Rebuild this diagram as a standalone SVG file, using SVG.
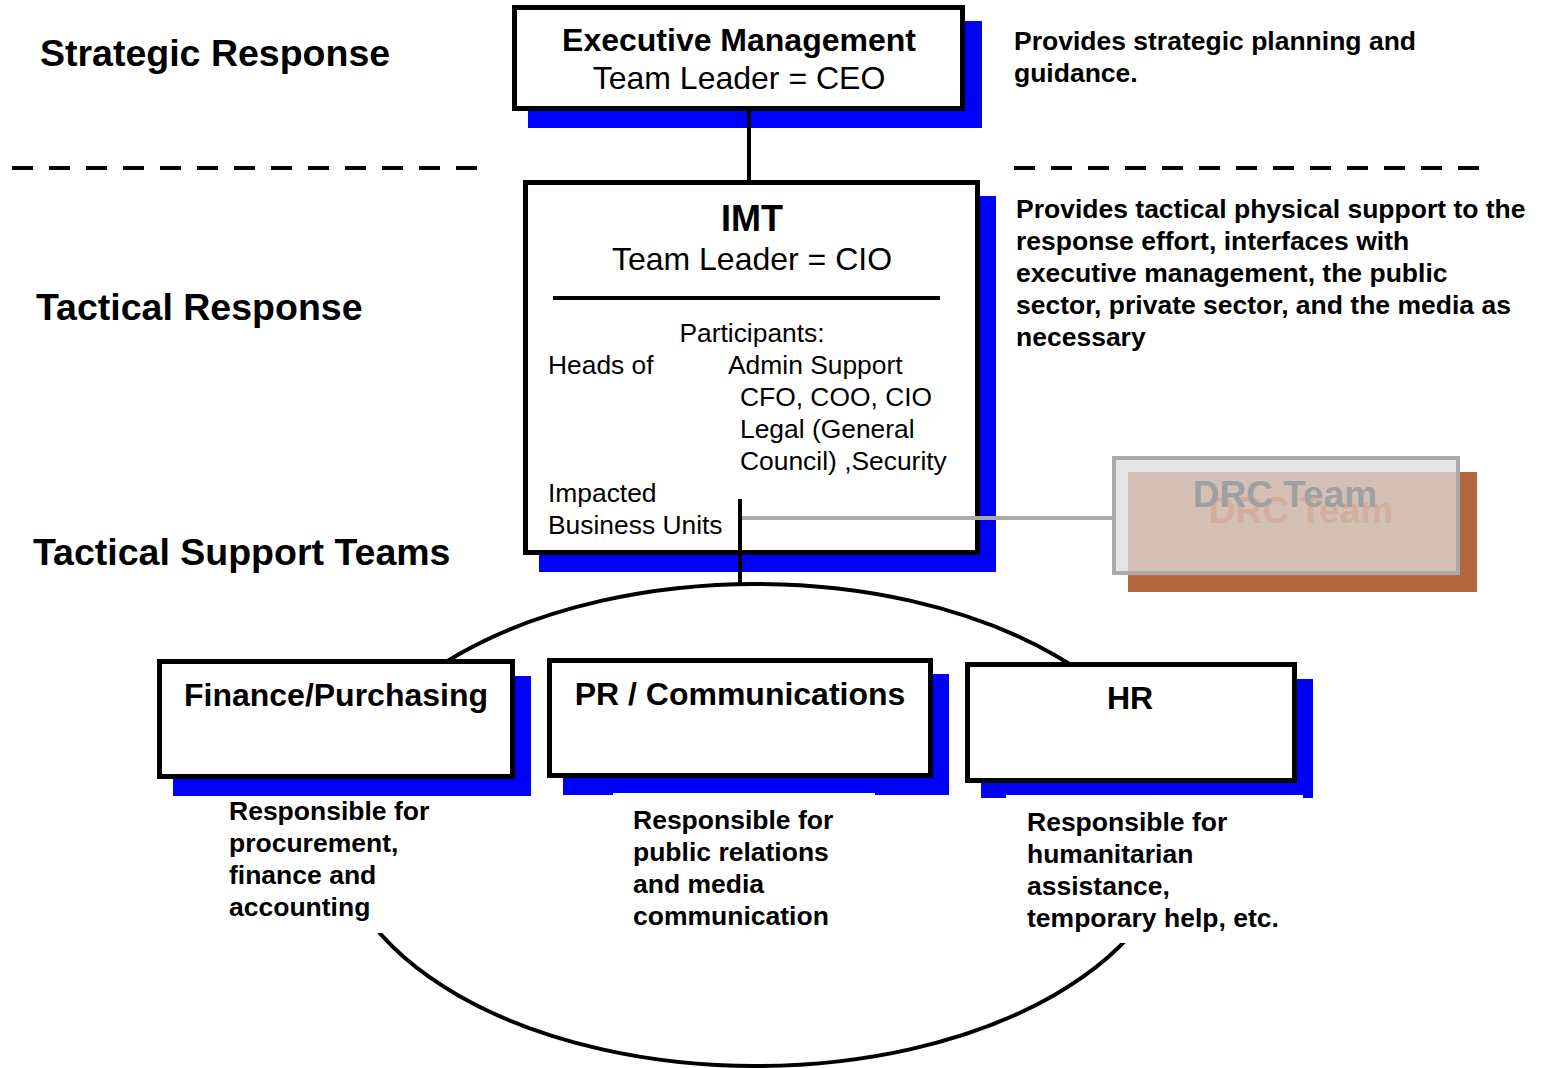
<svg xmlns="http://www.w3.org/2000/svg" width="1543" height="1068" viewBox="0 0 1543 1068">
<style>
text{font-family:"Liberation Sans",Arial,sans-serif;fill:#000}
.b{font-weight:bold}
.lbl{font-size:37.5px;font-weight:bold}
.desc{font-size:26.5px;font-weight:bold}
.head{font-size:32px}
.body{font-size:26.4px}
.box{fill:#fff;stroke:#000;stroke-width:5}
.shadow{fill:#0000ff}
.dash{stroke:#000;stroke-width:4;stroke-dasharray:21 16;fill:none}
.conn{stroke:#000;stroke-width:4;fill:none}
.mid{text-anchor:middle}
</style>
<rect width="1543" height="1068" fill="#fff"/>

<g id="dividers">
<line class="dash" x1="12" y1="168" x2="477" y2="168"/>
<line class="dash" x1="1014" y1="168" x2="1479" y2="168"/>
</g>

<g id="labels">
<text class="lbl" x="40" y="66">Strategic Response</text>
<text class="lbl" x="36" y="320">Tactical Response</text>
<text class="lbl" x="33" y="565">Tactical Support Teams</text>
<text class="desc" x="1014" y="50">Provides strategic planning and</text>
<text class="desc" x="1014" y="82">guidance.</text>
<text class="desc" x="1016" y="218">Provides tactical physical support to the</text>
<text class="desc" x="1016" y="250">response effort, interfaces with</text>
<text class="desc" x="1016" y="282">executive management, the public</text>
<text class="desc" x="1016" y="314">sector, private sector, and  the media as</text>
<text class="desc" x="1016" y="346">necessary</text>
</g>

<g id="exec">
<rect class="shadow" x="528" y="21" width="454" height="107"/>
<rect class="box" x="514.5" y="7.5" width="448" height="101"/>
<text class="head b mid" x="739" y="51">Executive Management</text>
<text class="head mid" x="739" y="89">Team Leader = CEO</text>
</g>

<g id="imt">
<rect class="shadow" x="539" y="196" width="457" height="376"/>
<rect class="box" x="525.5" y="182.5" width="452" height="370"/>
<text class="mid b" x="752" y="231" font-size="36">IMT</text>
<text class="head mid" x="752" y="270">Team Leader = CIO</text>
<line x1="553" y1="298" x2="940" y2="298" stroke="#000" stroke-width="4"/>
<text class="body mid" x="752" y="342">Participants:</text>
<text class="body" x="548" y="374">Heads of</text>
<text class="body" x="728" y="374">Admin Support</text>
<text class="body" x="740" y="406">CFO, COO, CIO</text>
<text class="body" x="740" y="438">Legal (General</text>
<text class="body" x="740" y="470">Council) ,Security</text>
<text class="body" x="548" y="502">Impacted</text>
<text class="body" x="548" y="534">Business Units</text>
</g>

<g id="drc">
<rect x="1128" y="472" width="349" height="120" fill="#b3673f"/>
<rect x="1114" y="458" width="344" height="115" fill="#e5e5e5"/>
<rect x="1128" y="472" width="330" height="101" fill="#d4c0b5"/>
<text class="b mid" x="1301" y="523" font-size="37" style="fill:#d2ae9f">DRC Team</text>
<text class="b mid" x="1285" y="507" font-size="37" style="fill:#a0a0a0">DRC Team</text>
<rect x="1114" y="458" width="344" height="115" fill="none" stroke="#aaaaaa" stroke-width="4"/>
</g>

<g id="connectors">
<ellipse cx="756" cy="825" rx="421" ry="241" class="conn" stroke-width="3.5"/>
<line class="conn" x1="749" y1="109" x2="749" y2="182"/>
<line class="conn" x1="740" y1="499" x2="740" y2="586"/>
<line x1="742" y1="518" x2="1112" y2="518" stroke="#aaaaaa" stroke-width="4"/>
</g>

<g id="text-finance-desc">
<rect x="220" y="796" width="220" height="137" fill="#fff"/>
<text class="desc" x="229" y="820">Responsible for</text>
<text class="desc" x="229" y="852">procurement,</text>
<text class="desc" x="229" y="884">finance and</text>
<text class="desc" x="229" y="916">accounting</text>
</g>
<g id="text-pr-desc">
<rect x="613" y="793" width="262" height="150" fill="#fff"/>
<text class="desc" x="633" y="829">Responsible for</text>
<text class="desc" x="633" y="861">public relations</text>
<text class="desc" x="633" y="893">and media</text>
<text class="desc" x="633" y="925">communication</text>
</g>
<g id="text-hr-desc">
<rect x="1006" y="795" width="297" height="148" fill="#fff"/>
<text class="desc" x="1027" y="831">Responsible for</text>
<text class="desc" x="1027" y="863">humanitarian</text>
<text class="desc" x="1027" y="895">assistance,</text>
<text class="desc" x="1027" y="927">temporary help, etc.</text>
</g>

<g id="finance">
<rect class="shadow" x="173" y="676" width="358" height="120"/>
<rect class="box" x="159.5" y="661.5" width="353" height="115"/>
<text class="head b mid" x="336" y="706">Finance/Purchasing</text>
</g>

<g id="pr">
<rect class="shadow" x="563" y="674" width="386" height="121"/>
<rect x="613" y="793" width="262" height="3" fill="#fff"/>
<rect class="box" x="549.5" y="660.5" width="381" height="115"/>
<text class="head b mid" x="740" y="705">PR / Communications</text>
</g>

<g id="hr">
<rect class="shadow" x="981" y="679" width="332" height="119"/>
<rect x="1006" y="795" width="297" height="4" fill="#fff"/>
<rect class="box" x="967.5" y="664.5" width="327" height="116"/>
<text class="head b mid" x="1130" y="709">HR</text>
</g>
</svg>
